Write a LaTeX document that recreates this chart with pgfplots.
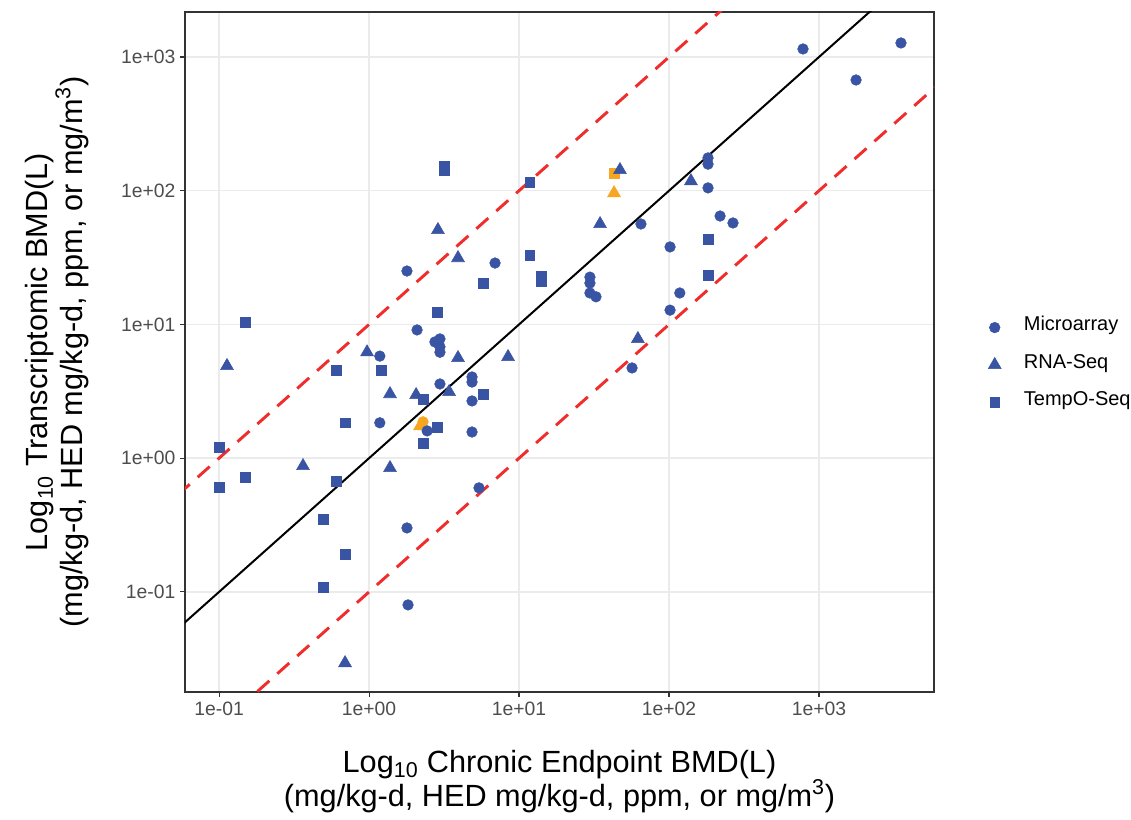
\documentclass[border=0pt]{standalone}
\usepackage{fontspec}
\setmainfont{Liberation Sans}
\usepackage{pgfplots}
\pgfplotsset{compat=1.18}
\usepackage{pgfplotstable}
\definecolor{ptblue}{RGB}{58,84,164}
\definecolor{ptorange}{RGB}{247,166,33}
\definecolor{refred}{RGB}{240,45,45}
\definecolor{gridgray}{RGB}{235,235,235}
\definecolor{framegray}{RGB}{51,51,51}
\definecolor{tickgray}{RGB}{77,77,77}

% chronic BMD (x) vs transcriptomic BMD (y)
\pgfplotstableread{
x y
782 1148
1766 673
3520 1273
182 176
182 158
182 105
219 64.7
267 57.4
101.6 38
118 17.2
101.6 12.8
56.7 4.73
65 56.4
29.7 22.6
29.7 20.4
29.7 17.2
32.6 16.1
6.92 28.8
1.79 25.1
2.09 9.1
2.75 7.4
2.97 7.8
2.97 6.8
2.97 6.2
1.18 5.8
4.86 4.05
4.86 3.71
2.97 3.59
4.86 2.68
1.18 1.84
2.44 1.6
4.86 1.57
5.41 0.6
1.79 0.301
1.82 0.08
}\micro
\pgfplotstableread{
x y
47.1 143
140 118
34.7 56.4
62 7.8
2.88 50.9
3.92 31.4
3.92 5.62
8.45 5.72
0.97 6.2
1.38 3.02
2.06 2.97
3.42 3.13
1.38 0.845
0.363 0.875
0.113 4.9
0.692 0.0294
}\rnaseq
\pgfplotstableread{
x y
3.16 153
3.16 141
11.8 116
11.8 33
14 23
14 21.1
5.75 20.4
2.84 12.4
182 43.5
182 23.4
0.149 10.4
0.603 4.57
1.2 4.57
0.692 1.84
2.29 2.77
5.75 3.02
2.84 1.71
2.29 1.3
0.1 1.21
0.149 0.724
0.1 0.61
0.603 0.676
0.494 0.352
0.692 0.192
0.494 0.109
}\tempo

\begin{document}
\begin{tikzpicture}
\begin{axis}[
  at={(0pt,0pt)}, anchor=south west,
  scale only axis,
  width=561.75pt, height=510pt,
  xmode=log, ymode=log,
  xmin=0.0593, xmax=5843,
  ymin=0.01786, ymax=2170,
  xtick={0.1,1,10,100,1000},
  xticklabels={1e-01,1e+00,1e+01,1e+02,1e+03},
  ytick={0.1,1,10,100,1000},
  yticklabels={1e-01,1e+00,1e+01,1e+02,1e+03},
  xminorticks=false, yminorticks=false,
  xtick pos=bottom, ytick pos=left,
  tick align=outside,
  major tick length=3.7pt,
  every tick/.style={framegray, line width=0.8pt},
  axis line style={framegray, line width=0.8pt},
  grid=major,
  major grid style={gridgray, line width=1.1pt},
  tick label style={font=\fontsize{14.5}{17}\selectfont, text=tickgray},
  label style={font=\fontsize{23}{26}\selectfont, align=center},
  xlabel={Log\textsubscript{10} Chronic Endpoint BMD(L)\\(mg/kg-d, HED mg/kg-d, ppm, or mg/m\textsuperscript{3})},
  ylabel={Log\textsubscript{10} Transcriptomic BMD(L)\\(mg/kg-d, HED mg/kg-d, ppm, or mg/m\textsuperscript{3})},
  xlabel style={at={(axis description cs:0.5,-0.085)}, anchor=north, inner sep=0pt},
  ylabel style={at={(axis description cs:-0.128,0.5)}, anchor=south, inner sep=0pt},
  legend style={at={(axis description cs:1,0.481)}, anchor=west, xshift=40.5pt,
    draw=none, fill=none, inner sep=0pt, row sep=14pt,
    font=\fontsize{15}{18}\selectfont,
    nodes={text height=0.75em, text depth=0.25em},
    /tikz/every odd column/.append style={column sep=15pt}},
  legend cell align=left,
  legend image code/.code={\draw[#1] plot coordinates {(0pt,0pt)};},
  clip=true,
]
% reference lines: 1:1 and tenfold either way
\addplot[refred, line width=2.2pt, dash pattern=on 12pt off 8pt, forget plot]
  coordinates {(0.001,0.01) (10000,100000)};
\addplot[refred, line width=2.2pt, dash pattern=on 12pt off 8pt, forget plot]
  coordinates {(0.001,0.0001) (100000,10000)};
\addplot[black, line width=1.5pt, forget plot]
  coordinates {(0.001,0.001) (100000,100000)};
% highlighted chemicals
\addplot[only marks, mark=*, mark size=4pt, ptorange, forget plot]
  coordinates {(2.29,1.87)};
\addplot[only marks, mark=triangle*, mark size=5.6pt, ptorange, forget plot]
  coordinates {(43,96) (2.19,1.74)};
\addplot[only marks, mark=square*, mark size=3.7pt, ptorange, forget plot]
  coordinates {(43,136)};
% platforms
\addplot[only marks, mark=*, mark size=4pt, ptblue] table[x=x, y=y] {\micro};
\addlegendentry{Microarray}
\addplot[only marks, mark=triangle*, mark size=5.6pt, ptblue] table[x=x, y=y] {\rnaseq};
\addlegendentry{RNA-Seq}
\addplot[only marks, mark=square*, mark size=3.7pt, ptblue] table[x=x, y=y] {\tempo};
\addlegendentry{TempO-Seq}
\end{axis}
\pgfresetboundingbox
\path (-138.75pt,-96pt) rectangle (709.5pt,519pt);
\end{tikzpicture}
\end{document}
